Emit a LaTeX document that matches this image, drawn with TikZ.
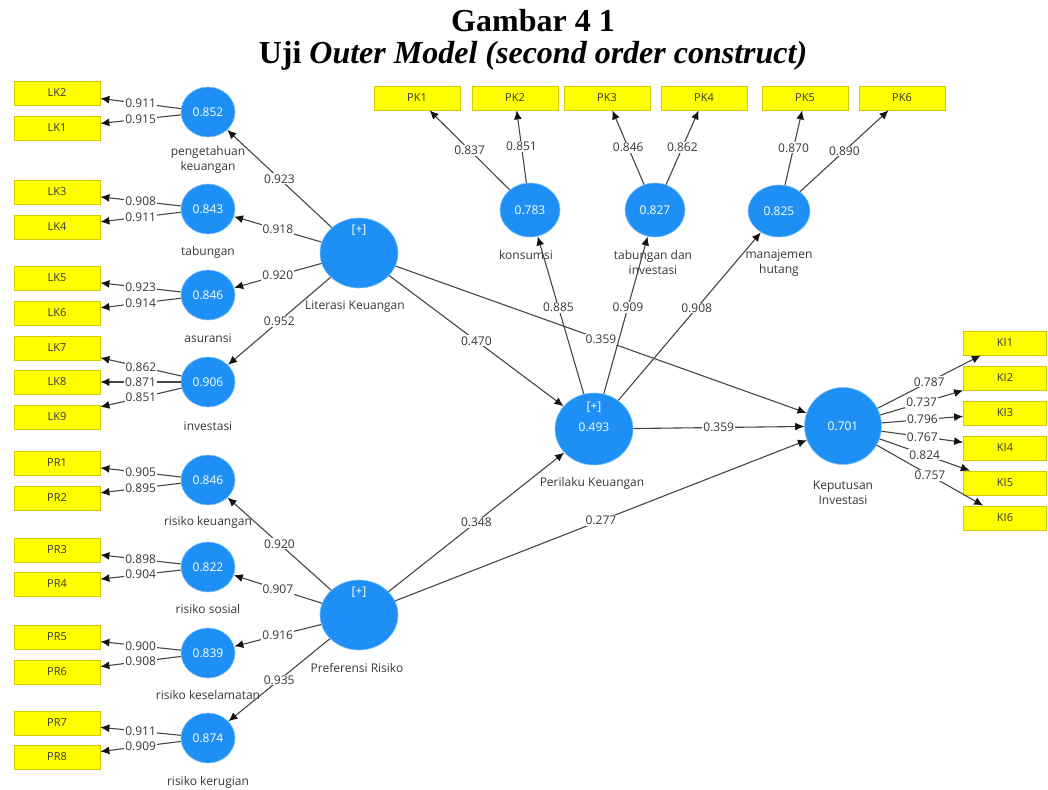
\documentclass[tikz,border=0pt]{standalone}
\usepackage{fontspec}
\setmainfont{Liberation Serif}
\newfontfamily\uifont{Open Sans}
\usetikzlibrary{arrows.meta,shapes.geometric}
\definecolor{lvblue}{RGB}{30,144,245}
\definecolor{indyel}{RGB}{255,255,0}
\definecolor{indedge}{RGB}{215,200,0}
\definecolor{edgec}{RGB}{70,70,70}
\definecolor{tipc}{RGB}{20,20,20}
\definecolor{txt}{RGB}{55,55,55}
\begin{document}
\begin{tikzpicture}[x=1pt,y=-1pt,
 ind/.style={rectangle,fill=indyel,draw=indedge,line width=0.8pt,minimum width=86pt,minimum height=24pt,inner sep=0pt,font=\uifont\fontsize{11}{13}\selectfont,text=txt},
 indr/.style={ind,minimum width=83pt},
 lv/.style={ellipse,fill=lvblue,draw=lvblue!55!white,line width=0.6pt,minimum width=54pt,minimum height=50pt,inner sep=0pt,text=white,font=\uifont\fontsize{12}{14}\selectfont},
 lvtop/.style={lv,minimum width=60pt,minimum height=54pt},
 lvbig/.style={lv,minimum width=78pt,minimum height=72pt},
 lab/.style={font=\uifont\fontsize{12}{15}\selectfont,text=txt,align=center},
 ld/.style={fill=white,inner sep=1pt,font=\uifont\fontsize{12}{14}\selectfont,text=txt},
 arr/.style={draw=edgec,line width=1.1pt,-{Latex[length=9pt,width=8pt,color=tipc]}},
 ttl/.style={font=\bfseries\fontsize{32}{36}\selectfont,anchor=base},
]
\useasboundingbox[fill=white] (0,0) rectangle (1048,789);

% title
\node[ttl] (t1) at (533,32) {Gambar 4 1};
\node[ttl] (t2) at (533,64) {Uji \textit{Outer Model (second order construct)}};

% left indicators
\node[ind] (LK2) at (57,93) {LK2};
\node[ind] (LK1) at (57,128) {LK1};
\node[ind] (LK3) at (57,192) {LK3};
\node[ind] (LK4) at (57,227) {LK4};
\node[ind] (LK5) at (57,278) {LK5};
\node[ind] (LK6) at (57,313) {LK6};
\node[ind] (LK7) at (57,348) {LK7};
\node[ind] (LK8) at (57,382) {LK8};
\node[ind] (LK9) at (57,417) {LK9};
\node[ind] (PR1) at (57,463) {PR1};
\node[ind] (PR2) at (57,498) {PR2};
\node[ind] (PR3) at (57,550) {PR3};
\node[ind] (PR4) at (57,584) {PR4};
\node[ind] (PR5) at (57,637) {PR5};
\node[ind] (PR6) at (57,672) {PR6};
\node[ind] (PR7) at (57,723) {PR7};
\node[ind] (PR8) at (57,757) {PR8};

% top indicators
\node[ind] (PK1) at (417,98) {PK1};
\node[ind] (PK2) at (515,98) {PK2};
\node[ind] (PK3) at (607,98) {PK3};
\node[ind] (PK4) at (704,98) {PK4};
\node[ind] (PK5) at (805,98) {PK5};
\node[ind] (PK6) at (902,98) {PK6};

% right indicators
\node[indr] (KI1) at (1005,343) {KI1};
\node[indr] (KI2) at (1005,378) {KI2};
\node[indr] (KI3) at (1005,413) {KI3};
\node[indr] (KI4) at (1005,448) {KI4};
\node[indr] (KI5) at (1005,483) {KI5};
\node[indr] (KI6) at (1005,518) {KI6};

% first-order constructs (left)
\node[lv] (pk) at (208,112) {0.852};
\node[lv] (tab) at (208,209) {0.843};
\node[lv] (asu) at (208,295) {0.846};
\node[lv] (inv) at (208,382) {0.906};
\node[lv] (rk) at (208,480) {0.846};
\node[lv] (rs) at (208,567) {0.822};
\node[lv] (rkes) at (208,653) {0.839};
\node[lv] (rker) at (208,738) {0.874};

\node[lab] (pkL) at (208,160) {pengetahuan\\keuangan};
\node[lab] (tabL) at (208,252) {tabungan};
\node[lab] (asuL) at (208,338) {asuransi};
\node[lab] (invL) at (208,426) {investasi};
\node[lab] (rkL) at (208,522) {risiko keuangan};
\node[lab] (rsL) at (208,609) {risiko sosial};
\node[lab] (rkesL) at (208,695) {risiko keselamatan};
\node[lab] (rkerL) at (208,782) {risiko kerugian};

% first-order constructs (top)
\node[lvtop] (kon) at (530,210) {0.783};
\node[lvtop] (tdi) at (655,210) {0.827};
\node[lvtop,minimum width=62pt,minimum height=52pt] (mh) at (779,211) {0.825};
\node[lab] (konL) at (526,255) {konsumsi};
\node[lab] (tdiL) at (653,262) {tabungan dan\\investasi};
\node[lab] (mhL) at (779,263) {manajemen\\hutang};

% second-order and structural constructs
\node[lvbig,minimum height=70pt] (lit) at (359,253) {};
\node[lab,text=white] (litP) at (359,230) {[+]};
\node[lab] (litL) at (355,307) {Literasi Keuangan};

\node[lvbig,minimum height=70pt] (pref) at (359,615) {};
\node[lab,text=white] (prefP) at (359,592) {[+]};
\node[lab] (prefL) at (357,668) {Preferensi Risiko};

\node[lvbig] (per) at (594,429) {};
\node[lab,text=white] (perP) at (594,407) {[+]};
\node[lab,text=white] (perV) at (594,427) {0.493};
\node[lab] (perL) at (592,483) {Perilaku Keuangan};

\node[lvbig,minimum width=77pt,minimum height=77pt] (kep) at (843,426) {0.701};
\node[lab] (kepL) at (843,493) {Keputusan\\Investasi};

% outer loadings (left)
\draw[arr] (pk) -- node[ld]{0.911} (LK2);
\draw[arr] (pk) -- node[ld]{0.915} (LK1);
\draw[arr] (tab) -- node[ld]{0.908} (LK3);
\draw[arr] (tab) -- node[ld]{0.911} (LK4);
\draw[arr] (asu) -- node[ld]{0.923} (LK5);
\draw[arr] (asu) -- node[ld]{0.914} (LK6);
\draw[arr] (inv) -- node[ld]{0.862} (LK7);
\draw[arr] (inv) -- node[ld]{0.871} (LK8);
\draw[arr] (inv) -- node[ld]{0.851} (LK9);
\draw[arr] (rk) -- node[ld]{0.905} (PR1);
\draw[arr] (rk) -- node[ld]{0.895} (PR2);
\draw[arr] (rs) -- node[ld]{0.898} (PR3);
\draw[arr] (rs) -- node[ld]{0.904} (PR4);
\draw[arr] (rkes) -- node[ld]{0.900} (PR5);
\draw[arr] (rkes) -- node[ld]{0.908} (PR6);
\draw[arr] (rker) -- node[ld]{0.911} (PR7);
\draw[arr] (rker) -- node[ld]{0.909} (PR8);

% outer loadings (top)
\draw[arr] (kon) -- node[ld]{0.837} (PK1);
\draw[arr] (kon) -- node[ld]{0.851} (PK2);
\draw[arr] (tdi) -- node[ld]{0.846} (PK3);
\draw[arr] (tdi) -- node[ld]{0.862} (PK4);
\draw[arr] (mh) -- node[ld]{0.870} (PK5);
\draw[arr] (mh) -- node[ld]{0.890} (PK6);

% outer loadings (right)
\draw[arr] (kep) -- node[ld]{0.787} (KI1);
\draw[arr] (kep) -- node[ld]{0.737} (KI2);
\draw[arr] (kep) -- node[ld]{0.796} (KI3);
\draw[arr] (kep) -- node[ld]{0.767} (KI4);
\draw[arr] (kep) -- node[ld]{0.824} (KI5);
\draw[arr] (kep) -- node[ld]{0.757} (KI6);

% second-order loadings
\draw[arr] (lit) -- node[ld]{0.923} (pk);
\draw[arr] (lit) -- node[ld]{0.918} (tab);
\draw[arr] (lit) -- node[ld]{0.920} (asu);
\draw[arr] (lit) -- node[ld]{0.952} (inv);
\draw[arr] (pref) -- node[ld]{0.920} (rk);
\draw[arr] (pref) -- node[ld]{0.907} (rs);
\draw[arr] (pref) -- node[ld]{0.916} (rkes);
\draw[arr] (pref) -- node[ld]{0.935} (rker);
\draw[arr] (per) -- node[ld,pos=0.55]{0.885} (kon);
\draw[arr] (per) -- node[ld,pos=0.55]{0.909} (tdi);
\draw[arr] (per) -- node[ld,pos=0.55]{0.908} (mh);

% structural paths
\draw[arr] (lit) -- node[ld]{0.470} (per);
\draw[arr] (lit) -- node[ld]{0.359} (kep);
\draw[arr] (per) -- node[ld]{0.359} (kep);
\draw[arr] (pref) -- node[ld]{0.348} (per);
\draw[arr] (pref) -- node[ld]{0.277} (kep);
\end{tikzpicture}
\end{document}
